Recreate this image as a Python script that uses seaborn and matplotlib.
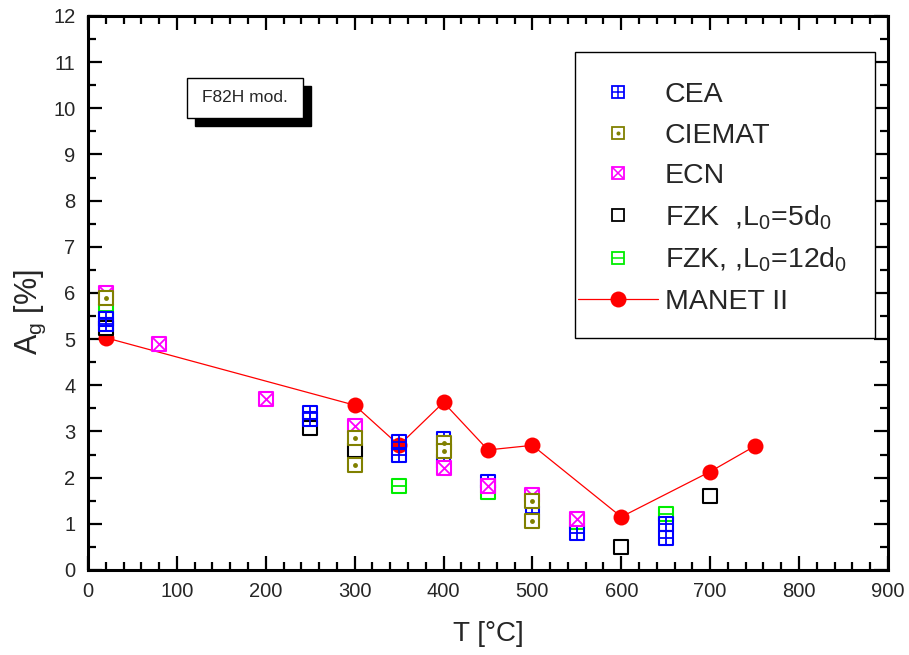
import matplotlib
matplotlib.use("Agg")
import matplotlib.pyplot as plt
from matplotlib import font_manager
from matplotlib.lines import Line2D
from matplotlib.patches import Rectangle
from matplotlib.legend_handler import HandlerTuple
import seaborn as sns
import pandas as pd

# ---- data ----
cea_T = [20, 20, 250, 250, 350, 350, 400, 400, 450, 500, 550, 650, 650]
cea_A = [5.43, 5.32, 3.41, 3.27, 2.77, 2.49, 2.84, 2.36, 1.92, 1.23, 0.80, 1.00, 0.69]
ciemat_T = [20, 300, 300, 400, 400, 500, 500]
ciemat_A = [5.90, 2.85, 2.27, 2.75, 2.57, 1.49, 1.07]
ecn_T = [20, 80, 200, 300, 400, 450, 500, 550]
ecn_A = [6.00, 4.90, 3.70, 3.11, 2.20, 1.82, 1.62, 1.10]
fzk5_T = [20, 250, 300, 600, 700]
fzk5_A = [5.25, 3.07, 2.60, 0.50, 1.60]
fzk12_T = [20, 350, 450, 550, 650]
fzk12_A = [5.62, 1.81, 1.69, 1.04, 1.22]
manet_T = [20, 300, 350, 400, 450, 500, 600, 700, 750]
manet_A = [5.03, 3.57, 2.70, 3.63, 2.60, 2.70, 1.15, 2.13, 2.68]

labels = ["CEA", "CIEMAT", "ECN", r"FZK  ,L$_0$=5d$_0$", r"FZK, ,L$_0$=12d$_0$", "MANET II"]
xticks = [0, 100, 200, 300, 400, 500, 600, 700, 800, 900]
yticks = list(range(0, 13))

sns.set_theme(style="ticks")
plt.rcParams['font.family'] = ['Liberation Sans', 'DejaVu Sans']
plt.rcParams['mathtext.fontset'] = 'custom'
plt.rcParams['mathtext.rm'] = 'Liberation Sans'
plt.rcParams['mathtext.it'] = 'Liberation Sans:italic'
plt.rcParams['mathtext.default'] = 'regular'

names = {f.name for f in font_manager.fontManager.ttflist}
if "Liberation Sans Narrow" in names:
    box_family, box_size = ["Liberation Sans Narrow", "Liberation Sans"], 14.5
else:
    box_family, box_size = ["Liberation Sans", "DejaVu Sans"], 12.5

fig = plt.figure(figsize=(9.09, 6.55), dpi=100)
ax = fig.add_axes([0.0968, 0.1298, 0.88, 0.8458])

MS = 9.8
EW = 1.5

# MANET II line + markers (drawn first, underneath)
dm = pd.DataFrame({"T": manet_T, "A": manet_A})
sns.lineplot(data=dm, x="T", y="A", ax=ax, color="#ff0000", linewidth=0.9,
             marker="o", markersize=11.5, markeredgewidth=0,
             markerfacecolor="#ff0000", zorder=2, sort=False)

series = [
    # (T, A, color, inner marker, inner size, face)
    (fzk12_T, fzk12_A, "#00ee00", "_", MS, "white"),
    (fzk5_T, fzk5_A, "#000000", None, None, "white"),
    (cea_T, cea_A, "#0000ff", "+", MS, "none"),
    (ecn_T, ecn_A, "#ff00ff", "x", MS, "white"),
    (ciemat_T, ciemat_A, "#808000", "o", 2.2, "white"),
]
z = 3
for T, A, col, inner, isz, face in series:
    d = pd.DataFrame({"T": T, "A": A})
    sns.scatterplot(data=d, x="T", y="A", ax=ax, marker="s", s=MS**2,
                    facecolor=face, edgecolor=col, linewidth=EW, zorder=z)
    if inner is not None:
        sns.scatterplot(data=d, x="T", y="A", ax=ax, marker=inner, s=isz**2,
                        color=col, edgecolor=col, linewidth=1.3, zorder=z + 0.5)
    z += 1

ax.set_xlim(0, 900)
ax.set_ylim(0, 12)
ax.set_xticks(xticks)
ax.set_yticks(yticks)
ax.set_xticks(range(0, 901, 20), minor=True)
ax.set_yticks([i * 0.5 for i in range(0, 25)], minor=True)
ax.tick_params(which="both", direction="in", top=True, right=True,
               labeltop=False, labelright=False, color="black")
ax.tick_params(which="major", length=10, width=1.6, labelsize=14.5, pad=9)
ax.tick_params(which="minor", length=6, width=1.6)
for s in ax.spines.values():
    s.set_linewidth(2.2)
    s.set_color("black")
ax.set_xlabel("T [°C]", fontsize=20, labelpad=14)
ax.set_ylabel(r"A$_\mathrm{g}$ [%]", fontsize=22, labelpad=4)
ax.yaxis.label.set_y(0.466)

# F82H mod. box with shadow
ax.add_patch(Rectangle((0.134, 0.802), 0.145, 0.072, transform=ax.transAxes,
                       facecolor="black", edgecolor="black", zorder=5))
ax.add_patch(Rectangle((0.124, 0.816), 0.145, 0.072, transform=ax.transAxes,
                       facecolor="white", edgecolor="black", linewidth=1.0, zorder=6))
ax.text(0.1965, 0.852, "F82H mod.", transform=ax.transAxes, ha="center",
        va="center", fontsize=box_size, family=box_family, zorder=7)

# legend frame
ax.add_patch(Rectangle((0.609, 0.419), 0.375, 0.516, transform=ax.transAxes,
                       facecolor="white", edgecolor="black", linewidth=1.0, zorder=9))

# legend
MSL = 8
cols = ["#0000ff", "#808000", "#ff00ff", "#000000", "#00ee00"]
inners = [("+", MSL), ("o", 1.8), ("x", MSL), (None, None), ("_", MSL)]
handles = []
for col, (im, isz) in zip(cols, inners):
    sq = Line2D([], [], linestyle="none", marker="s", markersize=MSL,
                markerfacecolor="white", markeredgecolor=col, markeredgewidth=1.3)
    if im is None:
        handles.append(sq)
    else:
        inn = Line2D([], [], linestyle="none", marker=im, markersize=isz,
                     color=col, markeredgewidth=1.1)
        handles.append((sq, inn))
handles.append(Line2D([], [], color="#ff0000", linewidth=0.9, marker="o",
                      markersize=11.5, markerfacecolor="#ff0000", markeredgewidth=0))

leg = ax.legend(handles, labels, loc="upper left", bbox_to_anchor=(0.6125, 0.88),
                fontsize=20.5, frameon=False, borderpad=0, labelspacing=0.5,
                handlelength=2.8, handletextpad=0.25, borderaxespad=0,
                handler_map={tuple: HandlerTuple(ndivide=1, pad=0)})
leg.set_zorder(10)

fig.savefig("out.png", dpi=100)
